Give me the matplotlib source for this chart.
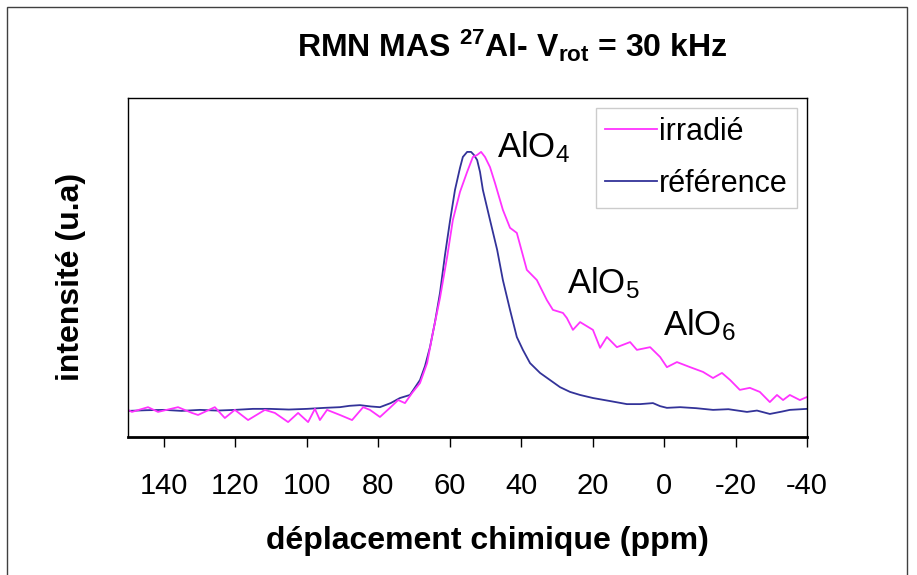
import matplotlib
matplotlib.use("Agg")
import matplotlib.pyplot as plt
from matplotlib.lines import Line2D
from matplotlib.patches import Rectangle

plt.rcParams['font.family'] = ['Liberation Sans', 'DejaVu Sans']
plt.rcParams['mathtext.fontset'] = 'custom'
plt.rcParams['mathtext.rm'] = 'Liberation Sans'
plt.rcParams['mathtext.bf'] = 'Liberation Sans:bold'
plt.rcParams['mathtext.it'] = 'Liberation Sans:italic'

# ---- data (ppm, intensity in arbitrary units) ----
ref_ppm = [150.0, 144.9, 139.9, 135.0, 129.9, 125.0, 120.1, 115.0, 110.3, 105.0, 99.9,
           95.0, 90.7, 88.0, 85.1, 82.0, 79.5, 76.5, 73.9, 71.1, 68.3, 66.9, 65.5,
           64.1, 62.7, 61.3, 59.9, 58.5, 57.1, 56.3, 55.1, 54.0, 53.2, 52.3, 51.5,
           50.7, 48.7, 46.7, 45.1, 43.1, 41.2, 39.5, 37.5, 34.7, 31.9, 29.1, 26.3,
           23.5, 19.9, 15.1, 10.4, 6.7, 3.1, 1.1, -0.8, -4.5, -9.0, -13.7, -18.0,
           -23.2, -26.0, -29.6, -33.0, -35.2, -40.0]
ref_int = [7.7, 7.9, 8.0, 7.7, 8.0, 7.8, 8.0, 8.3, 8.3, 8.1, 8.3,
           8.6, 8.8, 9.2, 9.4, 9.0, 8.8, 10.0, 11.5, 12.4, 16.8, 20.9, 26.5,
           33.9, 42.5, 53.7, 63.7, 72.9, 79.4, 82.6, 84.1, 84.1, 83.2, 81.7, 78.2,
           72.9, 64.0, 55.2, 46.3, 37.5, 29.5, 25.7, 21.8, 18.9, 16.8, 14.7, 13.3,
           12.4, 11.5, 10.6, 9.7, 9.7, 10.0, 9.1, 8.6, 8.8, 8.5, 8.0, 8.2,
           7.4, 7.8, 6.8, 7.5, 8.0, 8.3]

irr_ppm = [150.0, 148.9, 144.4, 141.6, 136.0, 132.1, 130.4, 125.7, 122.9, 120.1,
           116.4, 111.7, 108.9, 105.2, 102.4, 99.6, 97.7, 96.3, 94.3, 90.7, 87.3,
           84.2, 82.3, 79.5, 76.7, 74.4, 72.5, 70.5, 68.3, 66.3, 64.7, 62.7, 60.7,
           59.1, 57.1, 55.1, 53.5, 52.3, 51.2, 50.1, 48.7, 47.3, 45.1, 43.1, 41.2,
           38.4, 35.6, 32.8, 31.1, 28.3, 27.2, 25.5, 23.5, 19.9, 17.9, 16.0, 13.2,
           9.5, 7.6, 3.9, 1.1, -0.8, -3.6, -7.3, -10.9, -13.7, -16.2, -18.5, -21.2,
           -24.0, -26.8, -29.6, -31.6, -33.3, -35.2, -38.0, -40.0]
irr_int = [8.0, 7.4, 8.8, 7.4, 8.8, 7.1, 6.5, 8.8, 5.6, 8.0,
           5.0, 8.0, 7.1, 4.4, 7.1, 4.4, 8.3, 5.0, 8.0, 6.5, 5.0,
           8.8, 8.0, 5.9, 8.6, 10.9, 10.0, 13.0, 15.9, 21.8, 30.7, 41.0, 53.1,
           64.0, 72.3, 78.2, 82.6, 83.2, 84.1, 82.6, 79.6, 74.9, 67.0, 61.7, 60.2,
           49.3, 46.3, 40.4, 37.5, 36.6, 35.1, 31.6, 33.9, 31.6, 26.3, 29.5, 26.5,
           28.0, 25.7, 26.5, 23.6, 20.6, 22.1, 20.6, 19.2, 17.4, 18.9, 16.8, 13.9,
           14.5, 13.3, 10.3, 12.4, 10.9, 12.4, 10.9, 11.8]

xticks = [140, 120, 100, 80, 60, 40, 20, 0, -20, -40]
series_labels = ['irradié', 'référence']
peak_labels = ['AlO$_4$', 'AlO$_5$', 'AlO$_6$']
peak_pos = [(46.7, 82.6), (27.2, 42.5), (0.3, 30.1)]

c_irr = '#ff33ff'
c_ref = '#333399'

fig = plt.figure(figsize=(9.17, 5.75), dpi=100)
ax = fig.add_axes([128/917, 138/575, 679/917, 339/575])

ax.plot(ref_ppm, ref_int, color=c_ref, lw=1.3)
ax.plot(irr_ppm, irr_int, color=c_irr, lw=1.3)

ax.set_xlim(150, -40)
ax.set_ylim(0, 100)
ax.set_xticks(xticks)
ax.set_xticklabels([str(t) for t in xticks])
ax.set_yticks([])
ax.tick_params(axis='x', direction='out', length=7.5, width=1, pad=18, labelsize=21)
for s in ['left', 'top', 'right']:
    ax.spines[s].set_color('black')
    ax.spines[s].set_linewidth(1)
ax.spines['bottom'].set_linewidth(2)

fig.text(487/917, 1 - 541/575, 'déplacement chimique (ppm)', fontsize=23,
         fontweight='bold', ha='center', va='center')
fig.text(71/917, 1 - 277/575, 'intensité (u.a)', fontsize=23, fontweight='bold',
         ha='center', va='center', rotation=90)

for lab, (x, y) in zip(peak_labels, peak_pos):
    ax.text(x, y, lab, fontsize=25, ha='left', va='baseline')

handles = [Line2D([], [], color=c_irr, lw=1.3), Line2D([], [], color=c_ref, lw=1.3)]
leg = ax.legend(handles, series_labels, loc='upper right', bbox_to_anchor=(797/917, 467/575),
                bbox_transform=fig.transFigure, fontsize=22, frameon=True, fancybox=False,
                edgecolor='#c0c0c0', handlelength=1.7, handletextpad=0.08,
                borderpad=0.3, labelspacing=0.7, borderaxespad=0)
leg.get_frame().set_linewidth(1)

fig.text(512/917, 1 - 46/575,
         r'RMN MAS $^{\mathbf{27}}$Al- V$_{\mathbf{rot}}$ = 30 kHz',
         fontsize=23, fontweight='bold', ha='center', va='center')

fig.patches.append(Rectangle((7/917, -0.05), 900/917, 1 - 7/575 + 0.05,
                             transform=fig.transFigure, fill=False,
                             edgecolor='#404040', lw=1))

fig.savefig('out.png', dpi=100)
